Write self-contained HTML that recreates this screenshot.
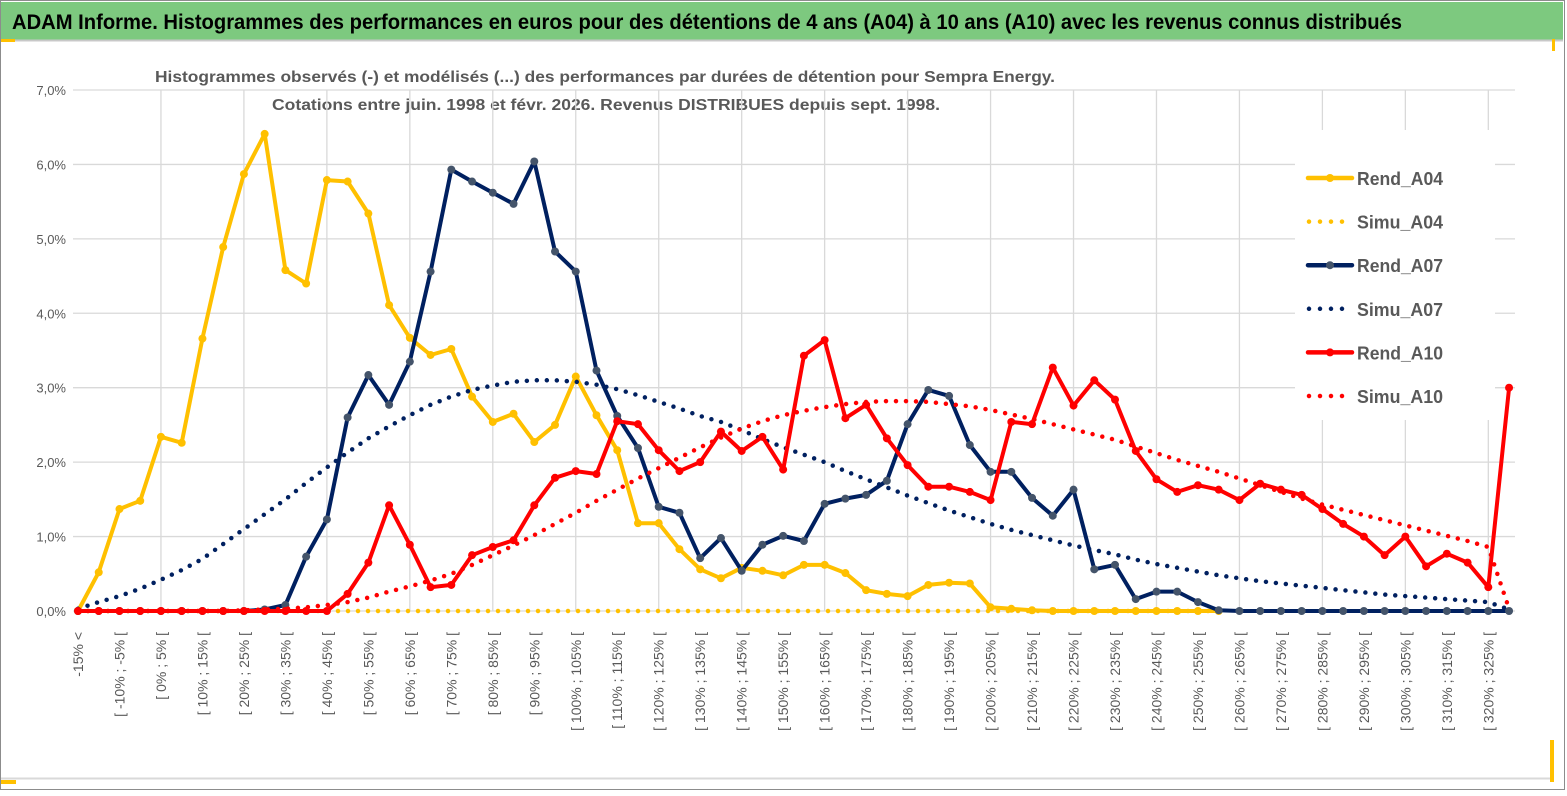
<!DOCTYPE html>
<html><head><meta charset="utf-8"><style>
html,body{margin:0;padding:0;background:#fff;}
body{width:1567px;height:791px;overflow:hidden;font-family:"Liberation Sans",sans-serif;}
</style></head><body>
<svg id="chart" width="1567" height="791" xmlns="http://www.w3.org/2000/svg" style="font-family:'Liberation Sans',sans-serif">
<rect x="0.5" y="0.5" width="1564" height="789" fill="#fff" stroke="#8c8c8c"/>
<rect x="1" y="2" width="1562" height="38" fill="#7dc97f"/>
<line x1="1" y1="40.5" x2="1563" y2="40.5" stroke="#c8c8c8" stroke-width="2"/>
<rect x="1" y="39" width="14" height="3" fill="#ffc000"/>
<rect x="1552" y="39" width="3" height="12" fill="#ffc000"/>
<rect x="1" y="780" width="15" height="4" fill="#ffc000"/>
<rect x="1550" y="740" width="4" height="42" fill="#ffc000"/>
<line x1="1" y1="778.5" x2="1550" y2="778.5" stroke="#d9d9d9" stroke-width="2"/>
<text x="12" y="29" font-size="21" font-weight="bold" fill="#000" textLength="1390" lengthAdjust="spacingAndGlyphs">ADAM Informe. Histogrammes des performances en euros pour des détentions de 4 ans (A04) à 10 ans (A10) avec les revenus connus distribués</text>
<text x="605" y="82" font-size="16" font-weight="bold" fill="#595959" text-anchor="middle" textLength="900" lengthAdjust="spacingAndGlyphs">Histogrammes observés (-)  et modélisés (...) des performances par durées de détention pour Sempra Energy.</text>
<text x="606" y="110" font-size="16" font-weight="bold" fill="#595959" text-anchor="middle" textLength="668" lengthAdjust="spacingAndGlyphs">Cotations entre juin. 1998 et févr. 2026. Revenus DISTRIBUES depuis sept. 1998.</text>
<g id="grid"></g>
<g id="yaxis"></g>
<g id="xaxis"></g>
<rect x="1295" y="130" width="200" height="290" fill="#fff"/>
<g id="series"></g>
<g id="legend"></g>
</svg>
<script>
const categories = [];
for (let k = 0; k < 70; k++) {
  categories.push(k === 0 ? '-15% <' : '[ ' + (5*k-20) + '% ; ' + (5*k-15) + '% [');
}
const yTicks = [0,1,2,3,4,5,6,7];
const yTickLabels = ['0,0%','1,0%','2,0%','3,0%','4,0%','5,0%','6,0%','7,0%'];
const rendA04 = [0,0.52,1.37,1.48,2.34,2.26,3.66,4.89,5.87,6.41,4.58,4.40,5.79,5.77,5.34,4.11,3.67,3.44,3.52,2.88,2.54,2.65,2.27,2.50,3.15,2.63,2.16,1.18,1.18,0.83,0.56,0.44,0.58,0.54,0.48,0.62,0.62,0.51,0.28,0.23,0.20,0.35,0.38,0.37,0.05,0.03,0.01,0,0,0,0,0,0,0,0,0];
const simuA04 = [0,0,0,0,0,0,0,0,0,0,0,0,0,0,0,0,0,0,0,0,0,0,0,0,0,0,0,0,0,0,0,0,0,0,0,0,0,0,0,0,0,0,0,0,0,0,0,0,0,0,0,0,0,0,0,0];
const rendA07 = [0,0,0,0,0,0,0,0,0,0.02,0.08,0.73,1.23,2.60,3.17,2.77,3.35,4.56,5.93,5.77,5.62,5.47,6.04,4.83,4.56,3.23,2.62,2.19,1.40,1.32,0.71,0.98,0.54,0.89,1.01,0.94,1.44,1.51,1.56,1.75,2.51,2.97,2.89,2.23,1.87,1.87,1.52,1.28,1.63,0.56,0.62,0.16,0.26,0.26,0.12,0.01,0,0,0,0,0,0,0,0,0,0,0,0,0,0];
const simuA07 = [0.03,0.12,0.2,0.3,0.42,0.55,0.7,0.9,1.1,1.3,1.5,1.72,1.93,2.13,2.32,2.48,2.63,2.77,2.88,2.97,3.03,3.08,3.1,3.1,3.08,3.04,2.98,2.9,2.81,2.72,2.62,2.54,2.43,2.31,2.2,2.1,2.0,1.88,1.77,1.66,1.55,1.45,1.35,1.26,1.17,1.09,1.02,0.95,0.88,0.82,0.76,0.69,0.63,0.58,0.53,0.48,0.44,0.4,0.37,0.34,0.31,0.28,0.25,0.22,0.2,0.18,0.16,0.14,0.12,0.02];
const rendA10 = [0,0,0,0,0,0,0,0,0,0,0,0,0,0.23,0.65,1.42,0.89,0.32,0.35,0.75,0.86,0.95,1.42,1.79,1.88,1.84,2.55,2.51,2.16,1.88,2.0,2.41,2.15,2.34,1.9,3.43,3.64,2.59,2.77,2.32,1.96,1.67,1.67,1.6,1.49,2.54,2.51,3.27,2.76,3.1,2.84,2.15,1.77,1.6,1.69,1.63,1.49,1.71,1.63,1.56,1.37,1.17,1.0,0.75,1.0,0.6,0.77,0.65,0.32,3.0];
const simuA10 = [0,0,0,0,0,0,0,0,0.01,0.02,0.03,0.05,0.08,0.12,0.18,0.26,0.33,0.41,0.5,0.62,0.75,0.88,1.02,1.17,1.32,1.48,1.63,1.78,1.92,2.06,2.2,2.33,2.45,2.55,2.63,2.69,2.74,2.78,2.81,2.82,2.82,2.81,2.78,2.75,2.7,2.64,2.58,2.51,2.44,2.37,2.3,2.21,2.12,2.03,1.95,1.87,1.78,1.69,1.6,1.51,1.43,1.36,1.29,1.22,1.15,1.08,1.01,0.94,0.86,0.03];

const NS = 'http://www.w3.org/2000/svg';
const X0 = 78, DX = 20.74, Y0 = 611, DY = 74.43;
function xs(i){ return X0 + i*DX; }
function ys(v){ return Y0 - v*DY; }
function mk(tag, attrs, parent){ const e = document.createElementNS(NS, tag); for (const k in attrs) e.setAttribute(k, attrs[k]); parent.appendChild(e); return e; }

const grid = document.getElementById('grid');
yTicks.forEach(function(t){
  const l = mk('line', {x1: 73, x2: 1515, y1: ys(t), y2: ys(t), stroke: '#d9d9d9', 'stroke-width': 1.3}, grid);
  
  
});
for (let i = 4; i < categories.length; i += 4) {
  const l = mk('line', {x1: xs(i), x2: xs(i), y1: ys(7), y2: ys(0), stroke: '#d9d9d9', 'stroke-width': 1.3}, grid);
  
  
}
const yax = document.getElementById('yaxis');
yTicks.forEach(function(t, i){
  const tx = mk('text', {x: 66, y: ys(t) + 5, 'font-size': 13, fill: '#595959', 'text-anchor': 'end'}, yax);
  tx.textContent = yTickLabels[i];
  
  
});
const xax = document.getElementById('xaxis');
categories.forEach(function(c, i){
  if (i % 2) return;
  const x = xs(i) + 5, y = 632;
  const tx = mk('text', {x: x, y: y, 'font-size': 14, fill: '#595959', 'text-anchor': 'end', transform: 'rotate(-90 ' + x + ' ' + y + ')'}, xax);
  tx.textContent = c;
  
  
});

const ser = document.getElementById('series');
function pts(arr){ return arr.map(function(v,i){ return xs(i).toFixed(1) + ',' + ys(v).toFixed(1); }).join(' '); }
function solid(arr, color, mcolor, name){
  const g = mk('g', {}, ser);
  
  
  mk('polyline', {points: pts(arr), fill: 'none', stroke: color, 'stroke-width': 4, 'stroke-linejoin': 'round'}, g);
  arr.forEach(function(v,i){
    const c = mk('circle', {cx: xs(i), cy: ys(v), r: 4, fill: mcolor}, g);
    
    
  });
}
function dotted(arr, color, name){
  const p = mk('polyline', {points: pts(arr), fill: 'none', stroke: color, 'stroke-width': 4.5, 'stroke-linecap': 'round', 'stroke-dasharray': '0 10'}, ser);
  
  
}
dotted(simuA04, '#ffc000', 'simu-a04-line');
solid(rendA04, '#ffc000', '#ffc000', 'rend-a04-line');
solid(rendA07, '#002060', '#44546a', 'rend-a07-line');
dotted(simuA07, '#002060', 'simu-a07-line');
solid(rendA10, '#ff0000', '#ff0000', 'rend-a10-line');
dotted(simuA10, '#ff0000', 'simu-a10-line');

const legendNames = ['Rend_A04','Simu_A04','Rend_A07','Simu_A07','Rend_A10','Simu_A10'];
const legendColors = ['#ffc000','#ffc000','#002060','#002060','#ff0000','#ff0000'];
const legendMarker = ['#ffc000','','#44546a','','#ff0000',''];
const lg = document.getElementById('legend');
legendNames.forEach(function(n, i){
  const y = 178 + i*43.6;
  const g = mk('g', {}, lg);
  
  
  if (i % 2 === 0) {
    mk('line', {x1: 1308, x2: 1352, y1: y, y2: y, stroke: legendColors[i], 'stroke-width': 4.5, 'stroke-linecap': 'round'}, g);
    mk('circle', {cx: 1330, cy: y, r: 4, fill: legendMarker[i]}, g);
  } else {
    mk('line', {x1: 1309, x2: 1344, y1: y, y2: y, stroke: legendColors[i], 'stroke-width': 4.5, 'stroke-linecap': 'round', 'stroke-dasharray': '0 11'}, g);
  }
  const t = mk('text', {x: 1357, y: y + 7, 'font-size': 18, 'font-weight': 'bold', fill: '#595959', textLength: 86, lengthAdjust: 'spacingAndGlyphs'}, g);
  t.textContent = n;
});
</script>
</body></html>
